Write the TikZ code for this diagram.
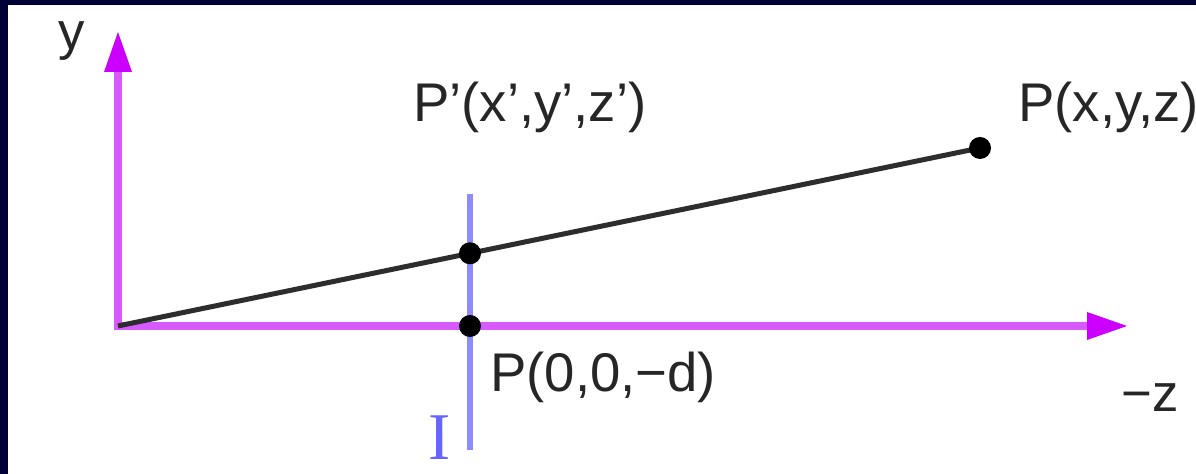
\documentclass[tikz,border=0pt]{standalone}
\usepackage{fontspec}
\setmainfont{Liberation Sans}
\newfontfamily\seriffont{Liberation Serif}
\usepackage{tikz}
\usetikzlibrary{arrows.meta}
\definecolor{mynavy}{RGB}{0,0,56}
\definecolor{mymagenta}{RGB}{214,90,255}
\definecolor{myheadmag}{RGB}{204,0,255}
\definecolor{myblue}{RGB}{140,140,255}
\definecolor{mylabelblue}{RGB}{102,102,255}
\definecolor{myline}{RGB}{45,45,45}

\begin{document}
\begin{tikzpicture}[
  axis/.style={draw=mymagenta, line width=0.16cm, line cap=rect,
    -{Triangle[length=0.8cm, width=0.56cm, line width=0pt, fill=myheadmag, color=myheadmag]}},
  dot/.style={circle, fill=black, inner sep=0pt, minimum size=0.44cm},
  lbl/.style={font=\fontsize{31}{36}\selectfont, text=black!85, inner sep=0pt}]
  % Frame
  \fill[mynavy] (0,0) rectangle (23.92,9.48);
  \fill[white] (0.16,0) rectangle (23.92,9.38);
  \useasboundingbox (0,0) rectangle (23.92,9.48);

  % Axes
  \coordinate (O) at (2.36,2.96);
  \coordinate (ytip) at (2.36,8.84);
  \coordinate (ztip) at (22.54,2.96);
  \draw[axis] (O) -- (ytip);
  \draw[axis] (O) -- (ztip);

  % Image plane
  \coordinate (Itop) at (9.40,5.60);
  \coordinate (Ibot) at (9.40,0.48);
  \draw[myblue, line width=0.13cm] (Itop) -- (Ibot);

  % Projection ray
  \coordinate (P) at (19.60,6.52);
  \coordinate (Pp) at (9.40,4.414);
  \coordinate (P0) at (9.40,2.96);
  \draw[myline, line width=0.1cm] (O) -- (P);
  \node[dot] (Pdot) at (P) {};
  \node[dot] (Ppdot) at (Pp) {};
  \node[dot] (P0dot) at (P0) {};

  % Labels
  \node[lbl, anchor=base west] (Pplbl) at (8.26,7.04) {P'(x',y',z')};
  \node[lbl, anchor=base west] (Plbl) at (20.36,7.04) {P(x,y,z)};
  \node[lbl, anchor=base west] (P0lbl) at (9.80,1.64) {P(0,0,−d)};
  \node[lbl, font=\fontsize{30}{34}\selectfont, anchor=base west] (ylbl) at (1.16,8.48) {y};
  \node[lbl, font=\fontsize{30}{34}\selectfont, anchor=base west] (zlbl) at (22.42,1.24) {−z};
  \node[text=mylabelblue, font=\seriffont\fontsize{38}{42}\selectfont] (Ilbl) at (8.80,0.72) {I};
\end{tikzpicture}
\end{document}
